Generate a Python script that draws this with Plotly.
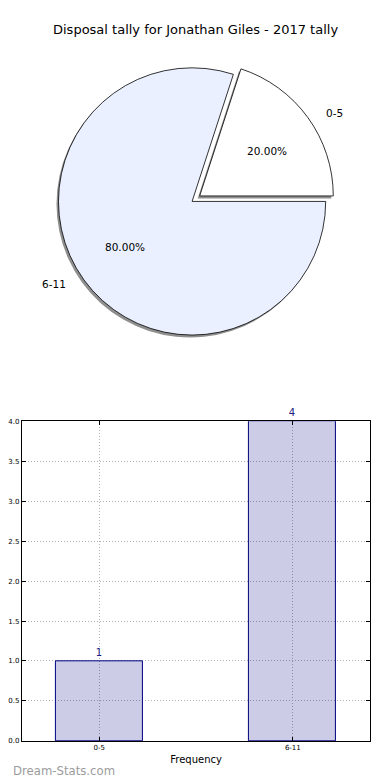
import math
import plotly.graph_objects as go

# ---- data ----
categories = ["0-5", "6-11"]
counts = [1, 4]
pie_colors = ["#ffffff", "#eaf0ff"]
explode = [0.07, 0.0]
title_text = "Disposal tally for Jonathan Giles - 2017 tally"
y_ticks = [0.0, 0.5, 1.0, 1.5, 2.0, 2.5, 3.0, 3.5, 4.0]

W, H = 390, 780
FONT = "DejaVu Sans"

# map target page pixels -> paper coords (compensates page offset)
def LX(x):
    return (x - 8.0) / W

def LY(y):
    return 1 - ((y - 12.4) / 0.988) / H

fig = go.Figure()

cx, cy, r = 190.5, 201.5, 135.0
maxpull = max(explode)
half = r * (1 + maxpull)
dom_x = [LX(cx - half), LX(cx + half)]
ymid = LY(cy)
dom_y = [ymid - half / H, ymid + half / H]
sx, sy = -2.0 / W, -2.5 / H

fig.add_trace(go.Pie(
    labels=categories, values=counts, sort=False, direction="counterclockwise",
    rotation=18, pull=explode, textinfo="none", hoverinfo="skip",
    marker=dict(colors=["#8f8f8f", "#8f8f8f"], line=dict(width=0)),
    domain=dict(x=[dom_x[0] + sx, dom_x[1] + sx], y=[dom_y[0] + sy, dom_y[1] + sy]),
    showlegend=False,
))
fig.add_trace(go.Pie(
    labels=categories, values=counts, sort=False, direction="counterclockwise",
    rotation=18, pull=explode, textinfo="none",
    marker=dict(colors=pie_colors, line=dict(color="#000000", width=0.8)),
    domain=dict(x=dom_x, y=dom_y),
    showlegend=False,
))

rx, ry = 140.0, 128.0
total = sum(counts)
start = 0.0
annotations = []
for lab, v, e in zip(categories, counts, explode):
    frac = v / total
    mid = math.radians((start + frac / 2) * 360)
    start += frac
    ox = e * rx * math.cos(mid)
    oy = e * ry * math.sin(mid)
    px = cx + ox + 0.6 * rx * math.cos(mid)
    py = cy - oy - 0.6 * ry * math.sin(mid)
    annotations.append(dict(x=LX(px), y=LY(py), xref="paper", yref="paper",
                            text=f"{frac*100:.2f}%", showarrow=False,
                            font=dict(family=FONT, size=10.5, color="#000000"),
                            xanchor="center", yanchor="middle"))
    lx = cx + ox + 1.1 * rx * math.cos(mid)
    ly = cy - oy - 1.1 * ry * math.sin(mid)
    annotations.append(dict(x=LX(lx), y=LY(ly), xref="paper", yref="paper",
                            text=lab, showarrow=False,
                            font=dict(family=FONT, size=10.5, color="#000000"),
                            xanchor="left" if math.cos(mid) > 0 else "right",
                            yanchor="middle"))

annotations.append(dict(x=LX(194), y=LY(30), xref="paper", yref="paper",
                        text=title_text, showarrow=False,
                        font=dict(family=FONT, size=13, color="#000000"),
                        xanchor="center", yanchor="middle"))
annotations.append(dict(x=0, y=LY(770), xref="paper", yref="paper",
                        text="Dream-Stats.com", showarrow=False,
                        font=dict(family=FONT, size=11.7, color="#9c9c9c"),
                        xanchor="left", yanchor="middle"))

fig.add_trace(go.Bar(
    x=categories, y=counts, width=0.45,
    marker=dict(color="rgba(0,0,128,0.2)", line=dict(color="#000080", width=1)),
    text=[str(c) for c in counts], textposition="outside",
    textfont=dict(family=FONT, size=10, color="#1c1c80"),
    cliponaxis=False, showlegend=False,
))

axis_common = dict(
    showline=True, linecolor="#000000", linewidth=1, mirror="ticks",
    ticks="inside", ticklen=4, tickcolor="#000000",
    showgrid=True, gridcolor="#b0b0b0", griddash="1px,2px", gridwidth=1,
    zeroline=False, tickfont=dict(family=FONT, size=7, color="#000000"),
)

fig.update_layout(
    width=W, height=H, margin=dict(l=0, r=0, t=0, b=0),
    paper_bgcolor="#ffffff", plot_bgcolor="#ffffff",
    annotations=annotations,
    xaxis=dict(domain=[LX(19), LX(370)], range=[-0.4, 1.4], type="category",
               title=dict(text="Frequency", font=dict(family=FONT, size=10, color="#000000"),
                          standoff=4),
               **axis_common),
    yaxis=dict(domain=[LY(740), LY(421)], range=[0, 4], tickvals=y_ticks,
               ticktext=[f"{t:.1f}" for t in y_ticks], **axis_common),
    bargap=0,
)

fig.write_html("out.html")
